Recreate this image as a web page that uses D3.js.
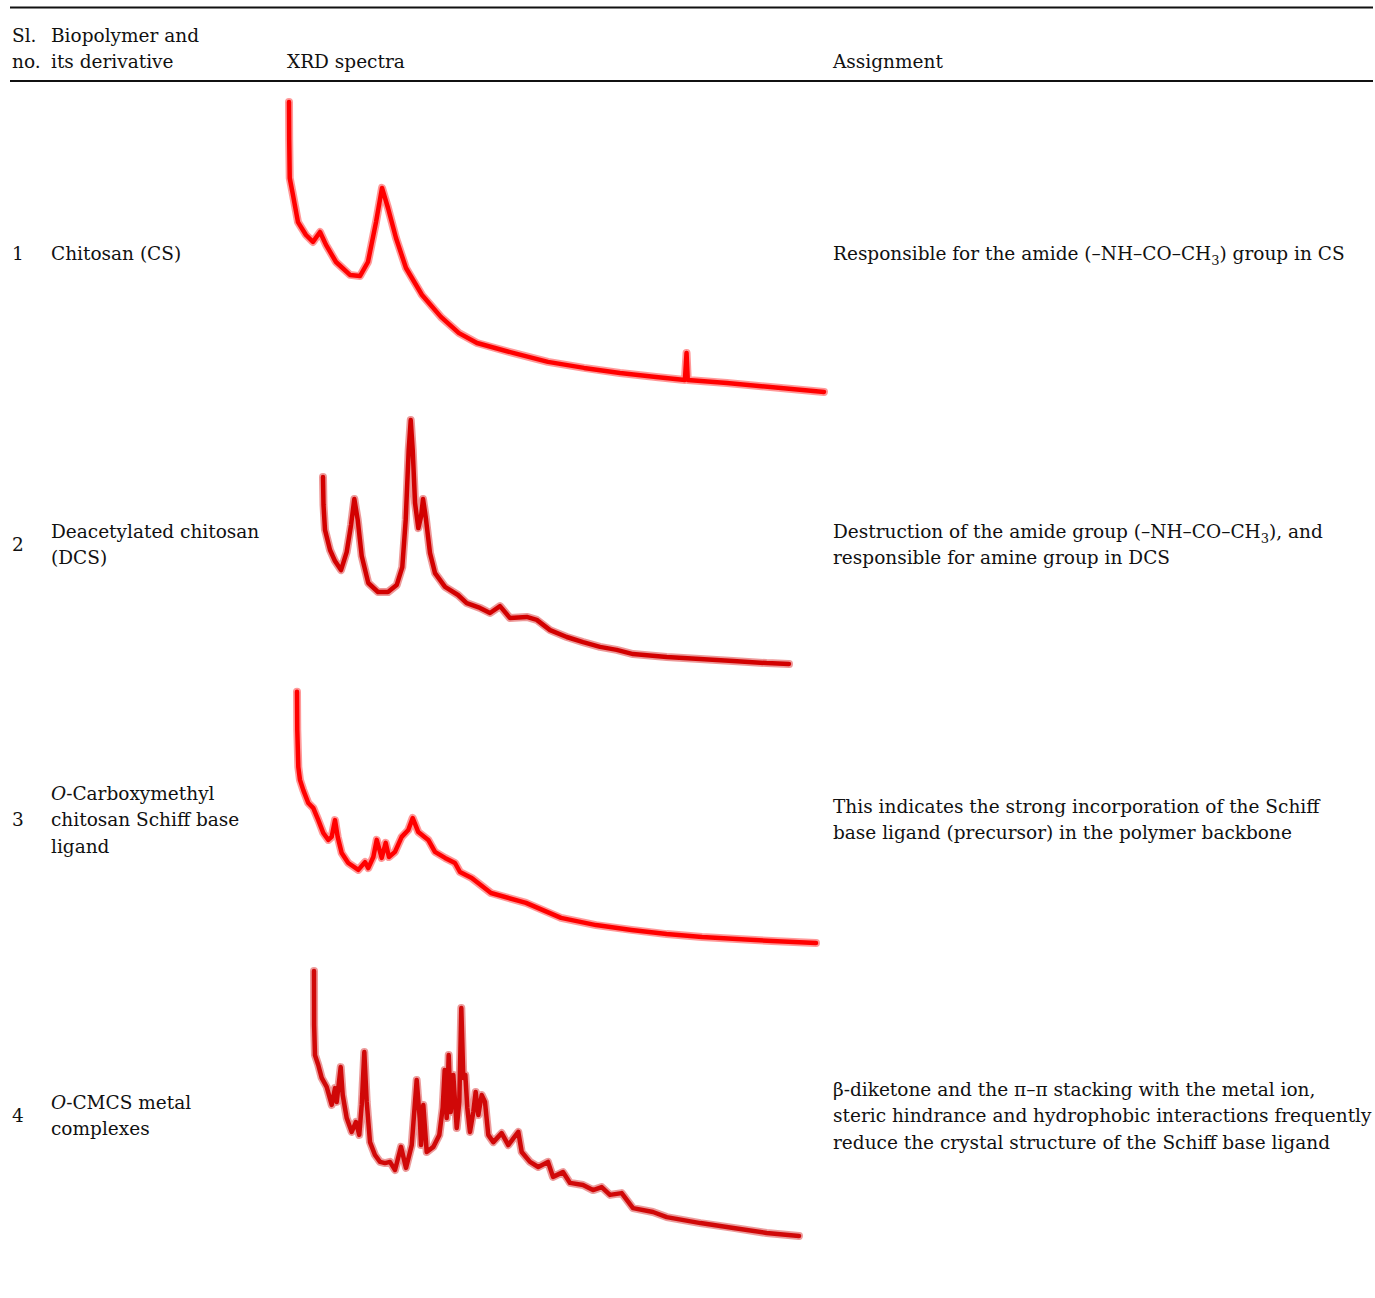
<!DOCTYPE html>
<html>
<head>
<meta charset="utf-8">
<script src="https://cdn.jsdelivr.net/npm/d3@7"></script>
<style>
  body { margin: 0; background: #fff; }
  svg text { font-family: "DejaVu Serif", serif; font-size: 18.5px; fill: #111; }
</style>
</head>
<body>
<script>
// table text
var headers = ["Sl.", "no.", "Biopolymer and", "its derivative", "XRD spectra", "Assignment"];
var rowNumbers = ["1", "2", "3", "4"];
// each line is a list of [text, style] pieces: "i" italic, "sub" subscript
var materialNames = [
    [[["Chitosan (CS)", ""]]],
    [[["Deacetylated chitosan", ""]], [["(DCS)", ""]]],
    [[["O", "i"], ["-Carboxymethyl", ""]], [["chitosan Schiff base", ""]], [["ligand", ""]]],
    [[["O", "i"], ["-CMCS metal", ""]], [["complexes", ""]]]
];
var assignments = [
    [[["Responsible for the amide (\u2013NH\u2013CO\u2013CH", ""], ["3", "sub"], [") group in CS", ""]]],
    [[["Destruction of the amide group (\u2013NH\u2013CO\u2013CH", ""], ["3", "sub"], ["), and", ""]],
     [["responsible for amine group in DCS", ""]]],
    [[["This indicates the strong incorporation of the Schiff", ""]],
     [["base ligand (precursor) in the polymer backbone", ""]]],
    [[["\u03b2-diketone and the \u03c0\u2013\u03c0 stacking with the metal ion,", ""]],
     [["steric hindrance and hydrophobic interactions frequently", ""]],
     [["reduce the crystal structure of the Schiff base ligand", ""]]]
];

// XRD patterns: [2theta (deg), intensity (a.u.)]
var csPattern = [[5.0,99.3],[5.03,86.7],[5.1,74],[5.56,68.3],[6.26,59.3],[7.38,55],[8.36,52.7],[9.35,56],[10.19,51.7],
    [11.59,46],[13.55,41.7],[14.95,41.3],[16.07,46],[17.2,59.3],[18.04,70.7],[18.88,64],[20.0,54],[21.4,44],
    [23.65,35],[26.3,27.7],[28.83,22.3],[31.36,19],[36.4,15.7],[41.3,12.7],[46.36,10.7],[51.4,9],[56.45,7.7],
    [60.5,6.7],[60.73,15.7],[60.9,6.7],[66.4,5.7],[73.97,4],[80,2.7]];
var dcsPattern = [[5.0,64.3],[5.08,55],[5.32,46.7],[6.13,40],[6.93,36.3],[7.9,33.3],[8.81,39.3],[9.51,48.3],
    [10.04,57],[10.59,50],[11.23,38],[12.29,29],[13.85,26],[15.46,26],[16.86,28.3],[17.76,34.3],[18.31,50],
    [18.79,73.3],[19.12,83.3],[19.44,73.3],[19.81,55.7],[20.34,47.3],[20.77,51],[21.1,57],[21.53,51],[22.22,39],
    [23.03,32.3],[24.64,27.7],[26.73,25],[28.13,22.3],[30.27,20.7],[31.88,19],[33.49,21.3],[35.1,17.3],
    [37.79,17.7],[39.4,16.7],[41.54,13.3],[44.23,11],[46.85,9.3],[49.58,7.7],[52.27,6.7],[54.9,5.3],
    [60.32,4.3],[65.68,3.7],[71,3],[76.4,2.3],[80,2]];
var ocmcsPattern = [[5.0,86.1],[5.04,73.3],[5.19,61],[5.43,56.7],[5.91,53.3],[6.63,49],[7.36,47.3],[8.08,43.3],
    [8.8,39],[9.52,36.7],[10.01,37.7],[10.49,43.3],[10.88,37.7],[11.46,32.3],[12.41,29],[13.86,26.7],
    [14.83,29.3],[15.3,27.3],[16.03,31],[16.52,36.7],[17.24,30.7],[17.82,35.7],[18.29,31],[19.16,32.7],
    [20.13,37.7],[21.08,40],[21.72,44],[22.53,39.3],[23.97,36.7],[24.94,32.7],[26.39,30.7],[27.83,29],
    [28.55,26],[30.25,24],[33.03,19],[38.09,15.7],[43.15,10.7],[48.21,8.3],[53.34,6.7],[58.42,5.3],
    [63.53,4.3],[68.58,3.7],[73.64,3],[80,2.3]];
var metalPattern = [[5.0,91.3],[5.02,73.3],[5.15,63.3],[5.66,60],[6.19,55.7],[6.96,52.7],[7.74,46.7],[8.25,52.3],
    [8.51,47.7],[9.13,59.3],[9.44,50],[10.06,42.3],[10.83,37.7],[11.49,41],[12.0,36.7],[12.38,46.7],[12.78,64.3],
    [13.15,47.7],[13.66,34.3],[14.43,30],[15.21,27.7],[15.98,27.3],[16.75,27.7],[17.53,25],[18.45,32.7],
    [19.23,25.7],[20.11,33.3],[20.88,55],[21.39,41],[21.55,33.3],[21.9,46.7],[22.43,31],[23.45,32.7],
    [24.38,36.7],[24.9,45.7],[25.21,58.3],[25.52,42.3],[25.83,63.3],[26.14,44.3],[26.54,56.7],[27.07,39],
    [27.47,47.7],[27.78,79],[28.09,55.7],[28.4,56.7],[28.71,45.7],[29.12,37.7],[29.63,44.3],[30.0,51],
    [30.41,43.3],[30.93,50],[31.44,47.7],[31.95,36.7],[32.73,34.3],[34.02,37.3],[35.04,33.3],[36.59,37.7],
    [37.12,31],[38.4,27.7],[39.68,26],[41.18,27.7],[41.96,22.7],[43.5,24.3],[44.59,20.7],[46.6,20],
    [48.14,18.3],[49.49,19.3],[50.77,16.7],[52.58,17.3],[54.33,12.3],[57.42,11],[59.54,9.3],[64.76,7.3],
    [69.86,5.7],[75.0,4],[80,3]];
var patterns = [csPattern, dcsPattern, ocmcsPattern, metalPattern];
var thetaRange = [5, 80];
var intensityRange = [0, 100];

// layout of the table
var width = 1375, height = 1298;
var colX = { no: 12, name: 51, xrd: 287, assign: 833 };
var lineGap = 26.5;
// baseline of first line for names, numbers and assignments in each row
var nameTop = [259.5, 537.5, 799.5, 1108.5];
var numY = [259.5, 550.5, 825.5, 1121.5];
var assignTop = [259.5, 537.5, 812.5, 1095.5];
// plot box for each spectrum: x extent and y for intensity 0 / 100
var boxes = [
    { x0: 289, x1: 824, y0: 400, y100: 100, color: "#ff0000" },
    { x0: 323, x1: 789, y0: 670, y100: 370, color: "#d20000" },
    { x0: 297, x1: 816, y0: 950, y100: 650, color: "#ff0000" },
    { x0: 314, x1: 799, y0: 1245, y100: 945, color: "#d00808" }
];

var svg = d3.select("body").append("svg")
    .attr("width", width)
    .attr("height", height);

// rules
svg.append("line").attr("x1", 10).attr("x2", 1373).attr("y1", 7.5).attr("y2", 7.5)
    .attr("stroke", "#111").attr("stroke-width", 2);
svg.append("line").attr("x1", 10).attr("x2", 1373).attr("y1", 81).attr("y2", 81)
    .attr("stroke", "#111").attr("stroke-width", 2);

// header
svg.append("text").attr("x", colX.no).attr("y", 41.5).text(headers[0]);
svg.append("text").attr("x", colX.no).attr("y", 67.5).text(headers[1]);
svg.append("text").attr("x", colX.name).attr("y", 41.5).text(headers[2]);
svg.append("text").attr("x", colX.name).attr("y", 67.5).text(headers[3]);
svg.append("text").attr("x", colX.xrd).attr("y", 67.5).text(headers[4]);
svg.append("text").attr("x", colX.assign).attr("y", 67.5).text(headers[5]);

// writes lines made of styled pieces
function writeLines(lines, x, y0) {
    lines.forEach(function(line, i) {
        var t = svg.append("text").attr("x", x).attr("y", y0 + i * lineGap);
        var shifted = false;
        line.forEach(function(p) {
            var s = t.append("tspan").text(p[0]);
            if (p[1] == "i") s.style("font-style", "italic");
            if (p[1] == "sub") {
                s.attr("dy", 5).style("font-size", "13px");
                shifted = true;
            } else if (shifted) {
                s.attr("dy", -5);
                shifted = false;
            }
        });
    });
}

rowNumbers.forEach(function(n, i) {
    svg.append("text").attr("x", colX.no).attr("y", numY[i]).text(n);
    writeLines(materialNames[i], colX.name, nameTop[i]);
    writeLines(assignments[i], colX.assign, assignTop[i]);
});

// spectra: soft wide band for the noise, then the core trace
patterns.forEach(function(data, i) {
    var b = boxes[i];
    var x = d3.scaleLinear().domain(thetaRange).range([b.x0, b.x1]);
    var y = d3.scaleLinear().domain(intensityRange).range([b.y0, b.y100]);
    var line = d3.line()
        .x(function(d) { return x(d[0]); })
        .y(function(d) { return y(d[1]); });
    svg.append("path")
        .datum(data)
        .attr("d", line)
        .attr("fill", "none")
        .attr("stroke", b.color)
        .attr("stroke-opacity", 0.4)
        .attr("stroke-width", 8)
        .attr("stroke-linejoin", "round")
        .attr("stroke-linecap", "round");
    svg.append("path")
        .datum(data)
        .attr("d", line)
        .attr("fill", "none")
        .attr("stroke", b.color)
        .attr("stroke-width", 4.5)
        .attr("stroke-linejoin", "round")
        .attr("stroke-linecap", "round");
});
</script>
</body>
</html>
